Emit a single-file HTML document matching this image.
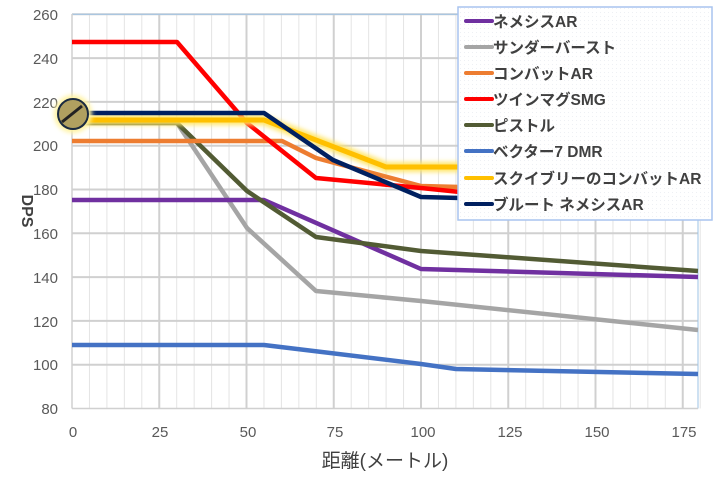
<!DOCTYPE html>
<html><head><meta charset="utf-8"><style>
body{margin:0;background:#fff}
svg text{font-family:"Liberation Sans","Noto Sans CJK JP",sans-serif}
</style></head><body>
<svg width="720" height="480" xmlns="http://www.w3.org/2000/svg">
<defs>
<filter id="glow" x="-20%" y="-50%" width="140%" height="200%"><feGaussianBlur stdDeviation="2.5"/></filter>
<pattern id="dots" width="4" height="4" patternUnits="userSpaceOnUse"><rect width="4" height="4" fill="#fff"/><rect width="1" height="1" fill="#eef0f4"/></pattern>
</defs>
<g id="grid" stroke="#e4e4e4" stroke-width="1">
</g>
<script>
(function(){
var g=document.getElementById('grid'),ns='http://www.w3.org/2000/svg';
function X(v){return 72+v*3.49}function Y(v){return 408.5-(v-80)*2.19}
for(var v=5;v<=180;v+=5){var l=document.createElementNS(ns,'line');l.setAttribute('x1',X(v));l.setAttribute('x2',X(v));l.setAttribute('y1',14);l.setAttribute('y2',408.5);if(v%25==0){l.setAttribute('stroke','#d0d0d0');l.setAttribute('stroke-width','2');}g.appendChild(l);}
for(var v=100;v<=260;v+=20){var l=document.createElementNS(ns,'line');l.setAttribute('x1',72);l.setAttribute('x2',698);l.setAttribute('y1',Y(v));l.setAttribute('y2',Y(v));l.setAttribute('stroke','#d0d0d0');l.setAttribute('stroke-width','2');g.appendChild(l);}
})();
</script>
<line x1="72" y1="14.3" x2="698" y2="14.3" stroke="#9dc3e6" stroke-width="1"/>
<line x1="698" y1="14" x2="698" y2="408.5" stroke="#9dc3e6" stroke-width="1"/>
<line x1="72" y1="408.5" x2="698" y2="408.5" stroke="#d0d0d0" stroke-width="1.5"/>
<line x1="72" y1="14" x2="72" y2="408.5" stroke="#d0d0d0" stroke-width="1.5"/>
<g font-size="15" fill="#595959" text-anchor="end">
<text x="58" y="20">260</text><text x="58" y="64">240</text><text x="58" y="108">220</text><text x="58" y="151">200</text><text x="58" y="195">180</text><text x="58" y="239">160</text><text x="58" y="283">140</text><text x="58" y="327">120</text><text x="58" y="370">100</text><text x="58" y="414">80</text>
</g>
<g font-size="15" fill="#595959" text-anchor="middle">
<text x="73" y="437">0</text><text x="160" y="437">25</text><text x="248" y="437">50</text><text x="335" y="437">75</text><text x="423" y="437">100</text><text x="510" y="437">125</text><text x="597" y="437">150</text><text x="684" y="437">175</text>
</g>
<text x="385" y="467" font-size="19" fill="#404040" text-anchor="middle">距離(メートル)</text>
<text transform="translate(22,211) rotate(90)" font-size="16" font-weight="bold" fill="#404040" text-anchor="middle">DPS</text>
<g fill="none" stroke-width="4.5" stroke-linejoin="round">
<polyline stroke="#a5a5a5" points="72,123 177,123 247,228 316,291 421,301 698,330"/>
<polyline stroke="#4472c4" points="72,345 264,345 421,364 456,369 698,374"/>
<polyline stroke="#7030a0" points="72,200 264,200 421,269 698,277"/>
<polyline stroke="#525b34" points="72,123 177,123 247,191 316,237 421,251 698,271"/>
<polyline stroke="#ed7d31" points="72,141 282,141 316,158 421,186 460,187"/>
<polyline stroke="#ff0000" points="72,42 177,42 247,123 316,178 421,188 460,192"/>
<polyline stroke="#ffe566" stroke-width="10" filter="url(#glow)" points="72,120 264,120 386,167 460,167"/>
<polyline stroke="#ffc000" stroke-width="5" points="72,120 264,120 386,167 460,167"/>
<polyline stroke="#002060" points="72,113 264,113 333,160 421,197 460,198"/>
</g>
<circle cx="73" cy="114" r="19" fill="#fff3a0" filter="url(#glow)"/>
<circle cx="73" cy="114" r="15" fill="#b0a060" stroke="#1a2a40" stroke-width="2"/>
<path d="M62,122 L82,106" stroke="#222" stroke-width="3"/>
<rect x="458" y="7" width="254" height="213" fill="url(#dots)" stroke="#a9c4ef" stroke-width="1.5"/>
<g stroke-width="4" stroke-linecap="round">
<line x1="466" y1="21" x2="492" y2="21" stroke="#7030a0"/>
<line x1="466" y1="47" x2="492" y2="47" stroke="#a5a5a5"/>
<line x1="466" y1="73" x2="492" y2="73" stroke="#ed7d31"/>
<line x1="466" y1="99" x2="492" y2="99" stroke="#ff0000"/>
<line x1="466" y1="125" x2="492" y2="125" stroke="#525b34"/>
<line x1="466" y1="151" x2="492" y2="151" stroke="#4472c4"/>
<line x1="466" y1="178" x2="492" y2="178" stroke="#ffc000"/>
<line x1="466" y1="204" x2="492" y2="204" stroke="#002060"/>
</g>
<g font-size="15.5" font-weight="bold" fill="#404040">
<text x="493" y="27">ネメシスAR</text>
<text x="493" y="53">サンダーバースト</text>
<text x="493" y="79">コンバットAR</text>
<text x="493" y="105">ツインマグSMG</text>
<text x="493" y="131">ピストル</text>
<text x="493" y="157">ベクター7 DMR</text>
<text x="493" y="184">スクイブリーのコンバットAR</text>
<text x="493" y="210">ブルート ネメシスAR</text>
</g>
</svg>
</body></html>
